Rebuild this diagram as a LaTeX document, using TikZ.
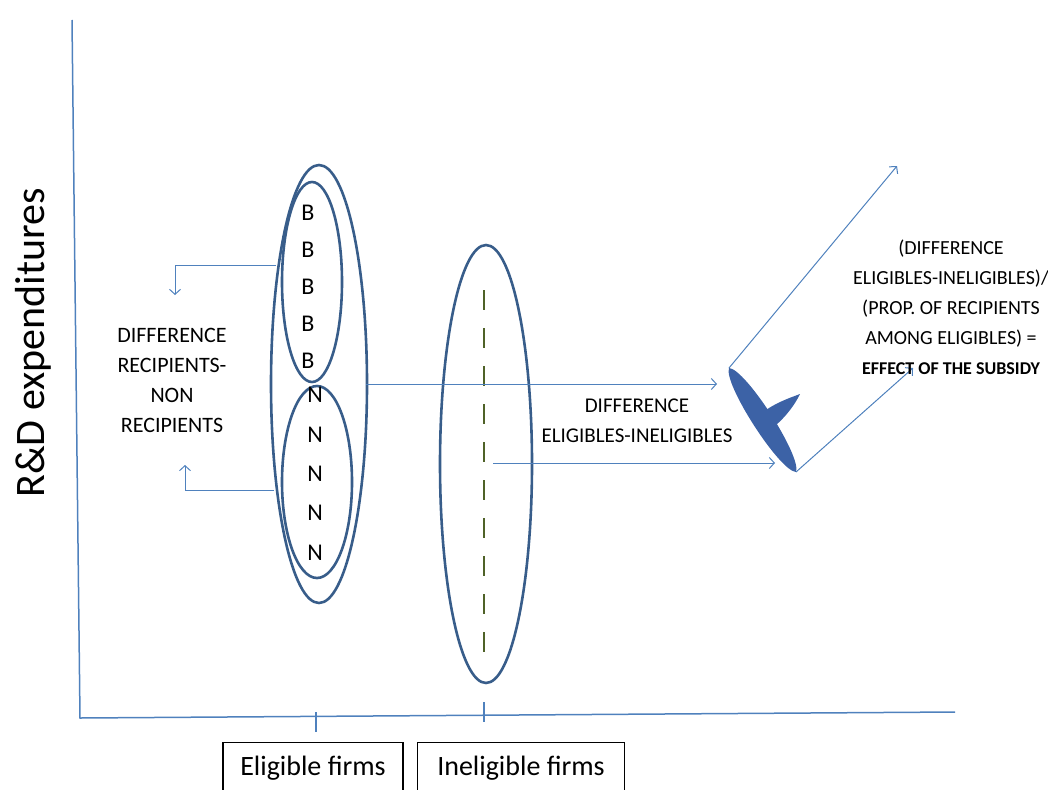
\documentclass[tikz,border=0pt]{standalone}
\usepackage{fontspec}
\setmainfont{Carlito}
\usepackage{tikz}
\usetikzlibrary{arrows.meta,positioning,shapes.geometric}
\usepackage{xcolor}
\definecolor{ovline}{RGB}{56,93,138}
\definecolor{arrblue}{RGB}{79,129,189}
\definecolor{dashgreen}{RGB}{79,98,40}
\definecolor{bracefill}{RGB}{60,98,166}

\begin{document}
\begin{tikzpicture}[
  x=1pt, y=-1pt,
  oval/.style={draw=ovline, line width=2.6pt, ellipse, inner sep=0pt},
  arr/.style={-{Straight Barb[length=5pt,width=11pt]}, draw=arrblue, line width=1pt},
  axis/.style={draw=arrblue, line width=1.5pt},
  lbl/.style={align=center, inner sep=0pt, font=\fontsize{22}{30}\selectfont},
  lt/.style={inner sep=0pt, minimum height=36.5pt, font=\fontsize{24}{24}\selectfont},
  ltn/.style={lt, minimum height=39pt},
  box/.style={draw, line width=1.3pt, anchor=north, minimum width=180pt, inner ysep=0pt, text height=33pt, text depth=20pt, font=\fontsize{28}{28}\selectfont}
]
\useasboundingbox (0,0) rectangle (1048,789);
\clip (0,0) rectangle (1048,789);

% axes
\coordinate (ytop) at (72,20);
\coordinate (org) at (80,718);
\coordinate (xend) at (955,712);
\draw[axis] (ytop) -- (org) -- (xend);
\draw[axis] (316,712) -- (316,732);
\draw[axis] (484,702) -- (484,722);
\node[rotate=90, font=\fontsize{42}{42}\selectfont] (ylab) at (33,343) {R\&D expenditures};

% groups of firms
\node[box] (elbox) at (313,742) {Eligible firms};
\node[box, minimum width=207pt] (inbox) at (521,742) {Ineligible firms};

\node[oval, minimum width=96pt, minimum height=438pt] (elig) at (319,384) {};
\node[oval, minimum width=60pt, minimum height=200pt] (rec) at (312,282) {};
\node[oval, minimum width=70pt, minimum height=192pt] (nonrec) at (317,482) {};
\node[oval, minimum width=92pt, minimum height=438pt] (inel) at (486,464) {};
\draw[dashgreen, line width=2.6pt, dash pattern=on 20pt off 18pt] (484,290) -- (484,652);

% recipients and non recipients
\node[lt] (b1) at (308,213) {B};
\node[lt, below=0pt of b1] (b2) {B};
\node[lt, below=0pt of b2] (b3) {B};
\node[lt, below=0pt of b3] (b4) {B};
\node[lt, below=0pt of b4] (b5) {B};
\node[ltn] (n1) at (315,395) {N};
\node[ltn, below=0pt of n1] (n2) {N};
\node[ltn, below=0pt of n2] (n3) {N};
\node[ltn, below=0pt of n3] (n4) {N};
\node[ltn, below=0pt of n4] (n5) {N};

% left comparison
\coordinate (ua) at (276,265);
\coordinate (ub) at (175,295);
\coordinate (la) at (274,490);
\coordinate (lb) at (185,465);
\draw[arr] (ua) -| (ub);
\draw[arr] (la) -| (lb);
\node[lbl] (diffrec) at (172,380) {DIFFERENCE\\RECIPIENTS-\\NON\\RECIPIENTS};

% middle comparison
\coordinate (ha) at (366,384);
\coordinate (hb) at (717,384);
\coordinate (ma) at (493,463);
\coordinate (mb) at (775,463);
\draw[arr] (ha) -- (hb);
\draw[arr] (ma) -- (mb);
\node[lbl, font=\fontsize{21}{30}\selectfont] (diffel) at (637,421) {DIFFERENCE\\ELIGIBLES-INELIGIBLES};

% brace
\coordinate (tt) at (729,368);
\coordinate (bt) at (796,472);
\fill[bracefill]
  (tt) .. controls (723.1,383.6) and (779.3,471.0) .. (bt)
  .. controls (801.9,456.4) and (745.7,369.0) .. (tt) -- cycle;
\fill[bracefill]
  (769.7,430) .. controls (784.7,419.2) and (795.3,403.9) .. (800,394)
  .. controls (790.3,397.7) and (772.1,403.6) .. (758.3,416) -- cycle;

% effect of the subsidy
\coordinate (ut) at (897,166);
\coordinate (lt2) at (913,368);
\draw[arr] (tt) -- (ut);
\draw[arr] (bt) -- (lt2);
\node[lbl, font=\fontsize{20}{30}\selectfont] (effect) at (951,307) {(DIFFERENCE\\ELIGIBLES-INELIGIBLES)/\\(PROP. OF RECIPIENTS\\AMONG ELIGIBLES) =\\{\fontsize{18}{30}\selectfont\bfseries EFFECT OF THE SUBSIDY}};
\end{tikzpicture}
\end{document}
